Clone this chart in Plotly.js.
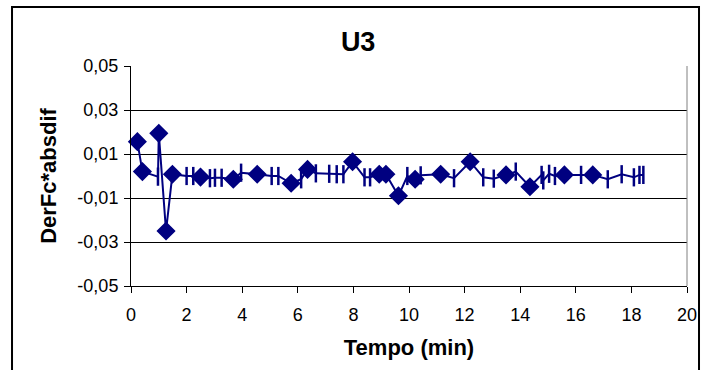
<!DOCTYPE html>
<html>
<head>
<meta charset="utf-8">
<script src="https://cdn.plot.ly/plotly-3.0.1.min.js"></script>
<style>
html,body{margin:0;padding:0;background:#fff;}
#chart{width:705px;height:370px;}
</style>
</head>
<body>
<div id="chart"></div>
<script>
// time (min)
var tempo = [0.23, 0.41, 0.97, 1.0, 1.26, 1.49, 2.0, 2.24, 2.5, 2.84, 3.02, 3.26, 3.68, 3.96, 4.54, 5.06, 5.3, 5.76, 6.12, 6.35,
  6.65, 7.13, 7.4, 7.64, 7.97, 8.4, 8.6, 8.93, 9.17, 9.62, 9.94, 10.22, 10.42, 11.14, 11.62, 12.2, 12.67, 13.05, 13.49, 13.84,
  14.35, 14.77, 14.83, 15.04, 15.25, 15.59, 16.19, 16.61, 17.15, 17.65, 18.09, 18.29, 18.43];
// DerFc*absdif
var derfc = [0.0156, 0.002, -0.0003, 0.0194, -0.025, 0.0008, 0.0, 0.0, -0.0005, -0.001, -0.0008, -0.0008, -0.0015, 0.0015, 0.0008, 0.0, 0.0, -0.0033, -0.0015, 0.003,
  0.0012, 0.001, 0.0008, 0.0008, 0.0065, -0.0006, -0.0006, 0.0008, 0.0008, -0.009, 0.0, -0.0015, 0.0003, 0.0008, -0.001, 0.0065, -0.0006, -0.0012, 0.0005, 0.002,
  -0.0049, 0.0005, -0.002, 0.001, 0.0, 0.0005, 0.0005, 0.0005, -0.0015, 0.0008, -0.0006, 0.0005, 0.0005];
// marker kind per point: D = diamond, I = vertical dash
var kind = ['D','D','I','D','D','D','I','I','D','I','I','I','D','I','D','I','I','D','I','D',
  'I','I','I','I','D','I','I','D','D','D','I','D','I','D','I','D','I','I','D','I',
  'D','I','I','I','I','D','I','D','I','I','I','I','I'];

var yTickVals = [0.05, 0.03, 0.01, -0.01, -0.03, -0.05];
var yTickText = ['0,05', '0,03', '0,01', '-0,01', '-0,03', '-0,05'];
var xTickVals = [0, 2, 4, 6, 8, 10, 12, 14, 16, 18, 20];

var navy = '#000080';
var symbols = kind.map(function(k){ return k === 'D' ? 'diamond' : 'line-ns'; });
var sizes = kind.map(function(k){ return k === 'D' ? 12 : 13; });

var trace = {
  x: tempo, y: derfc, type: 'scatter', mode: 'lines+markers',
  line: {color: navy, width: 2},
  marker: {symbol: symbols, size: sizes, color: navy, opacity: 1, line: {color: navy, width: 2.5}},
  cliponaxis: false, hoverinfo: 'none'
};

var layout = {
  width: 705, height: 370,
  margin: {l: 131, r: 18, t: 66, b: 84},
  paper_bgcolor: '#fff', plot_bgcolor: '#fff',
  showlegend: false,
  font: {family: 'Liberation Sans, Arial, sans-serif', color: '#000'},
  title: {text: '<b>U3</b>', font: {size: 27, color: '#000'}, x: 0.508, xanchor: 'center', y: 0.888, yanchor: 'middle'},
  xaxis: {
    range: [0, 20], tickvals: xTickVals, ticktext: xTickVals.map(String),
    showgrid: false, zeroline: false, showline: true, linecolor: '#000', linewidth: 1,
    ticks: 'outside', ticklen: 6, tickcolor: '#000', tickfont: {size: 18}, ticklabelstandoff: 6,
    title: {text: '<b>Tempo (min)</b>', font: {size: 22}, standoff: 16}
  },
  yaxis: {
    range: [-0.05, 0.05], tickvals: yTickVals, ticktext: yTickText,
    showgrid: true, gridcolor: '#000', gridwidth: 1, zeroline: false,
    showline: true, linecolor: '#000', linewidth: 1,
    ticks: 'outside', ticklen: 6, tickcolor: '#000', tickfont: {size: 18}, ticklabelstandoff: 2,
    title: {text: '<b>DerFc*absdif</b>', font: {size: 22}, standoff: 14}
  },
  shapes: [
    {type: 'line', xref: 'paper', yref: 'paper', x0: 1, x1: 1, y0: 0, y1: 1, line: {color: '#808080', width: 1}},
    {type: 'rect', xref: 'paper', yref: 'paper', x0: -0.214, x1: 1.0216, y0: -0.4, y1: 1.268, line: {color: '#000', width: 2}, layer: 'below'}
  ]
};

Plotly.newPlot('chart', [trace], layout, {staticPlot: true, displayModeBar: false});
</script>
</body>
</html>
